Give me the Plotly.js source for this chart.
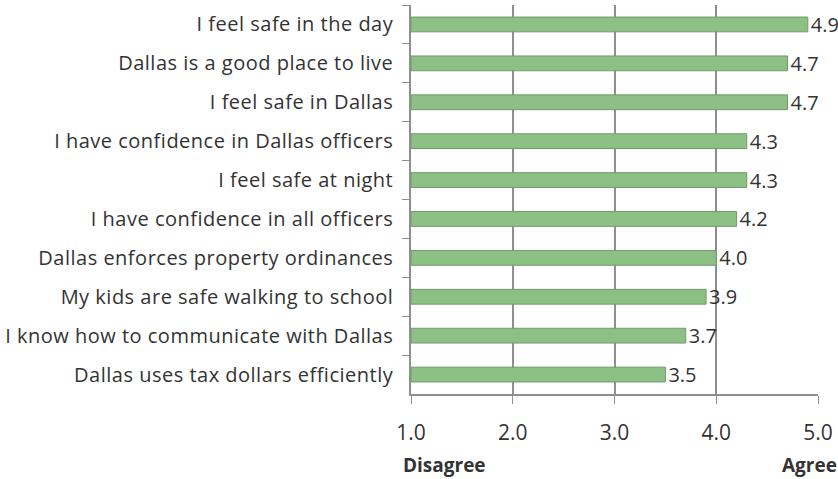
<!DOCTYPE html>
<html>
<head>
<meta charset="utf-8">
<script src="https://cdn.plot.ly/plotly-3.0.1.min.js"></script>
<style>
  html, body { margin: 0; padding: 0; background: #fff; }
  #chart { width: 838px; height: 479px; }
  #chart .ytick text { letter-spacing: 0.5px; }
</style>
</head>
<body>
<div id="chart"></div>
<script>
// survey statements, top to bottom
let statements = [
  "I feel safe in the day",
  "Dallas is a good place to live",
  "I feel safe in Dallas",
  "I have confidence in Dallas officers",
  "I feel safe at night",
  "I have confidence in all officers",
  "Dallas enforces property ordinances",
  "My kids are safe walking to school",
  "I know how to communicate with Dallas",
  "Dallas uses tax dollars efficiently"
];
let scores = [4.9, 4.7, 4.7, 4.3, 4.3, 4.2, 4.0, 3.9, 3.7, 3.5];
let xTicks = [1, 2, 3, 4, 5];
let xTickText = ["1.0", "2.0", "3.0", "4.0", "5.0"];

let fontFam = "'Open Sans', Roboto, sans-serif";
let textCol = "#333333";

let data = [
  {
    type: "bar",
    orientation: "h",
    y: statements,
    x: scores.map((s) => s - 1),
    base: 1,
    width: 0.38,
    text: scores.map((s) => s.toFixed(1)),
    textposition: "outside",
    constraintext: "none",
    cliponaxis: false,
    textfont: { family: fontFam, size: 20, color: textCol },
    marker: {
      color: "#8dc085",
      line: { color: "#6e9c67", width: 1 },
    },
    hoverinfo: "y+text",
  },
];

let layout = {
  width: 838,
  height: 479,
  margin: { l: 411, r: 20, t: 5, b: 85 },
  paper_bgcolor: "#fff",
  plot_bgcolor: "#fff",
  showlegend: false,
  font: { family: fontFam, size: 18, color: textCol },
  xaxis: {
    range: [1, 5],
    tickvals: xTicks,
    ticktext: xTickText,
    showgrid: true,
    gridcolor: "#8f8f8f",
    gridwidth: 1.5,
    zeroline: false,
    showline: true,
    linecolor: "#8f8f8f",
    linewidth: 1.5,
    ticks: "outside",
    ticklen: 8,
    tickcolor: "#8f8f8f",
    ticklabelstandoff: 11,
    tickfont: { family: fontFam, size: 21, color: textCol },
    fixedrange: true,
  },
  yaxis: {
    type: "category",
    autorange: "reversed",
    tickson: "boundaries",
    ticks: "outside",
    ticklen: 7,
    tickcolor: "#8f8f8f",
    showline: true,
    linecolor: "#8f8f8f",
    linewidth: 1.5,
    showgrid: false,
    ticklabelstandoff: 12,
    tickfont: { family: fontFam, size: 20, color: textCol },
    fixedrange: true,
  },
  annotations: [
    {
      text: "<b>Disagree</b>",
      xref: "paper",
      yref: "paper",
      x: 0,
      y: 0,
      xanchor: "left",
      yanchor: "middle",
      xshift: -10,
      yshift: -71,
      showarrow: false,
      font: { family: fontFam, size: 19, color: textCol },
    },
    {
      text: "<b>Agree</b>",
      xref: "paper",
      yref: "paper",
      x: 1,
      y: 0,
      xanchor: "right",
      yanchor: "middle",
      xshift: 21,
      yshift: -71,
      showarrow: false,
      font: { family: fontFam, size: 19, color: textCol },
    },
  ],
};

Plotly.newPlot("chart", data, layout, { displayModeBar: false });
</script>
</body>
</html>
